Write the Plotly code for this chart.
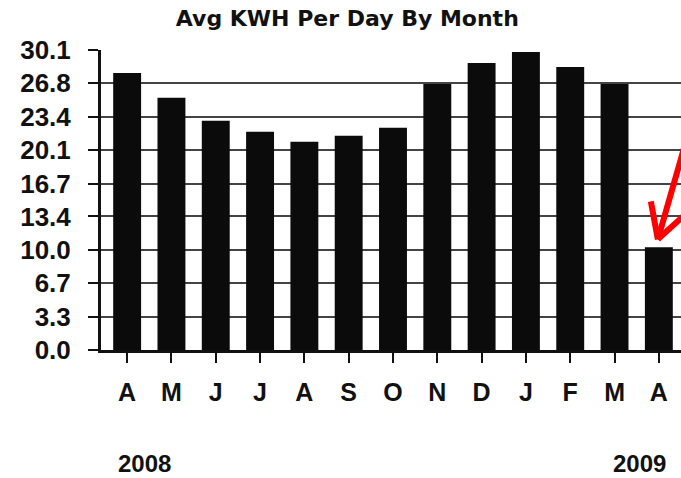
import plotly.graph_objects as go

# ---- data ----
months = ["A", "M", "J", "J", "A", "S", "O", "N", "D", "J", "F", "M", "A"]
kwh_per_day = [27.8, 25.3, 23.0, 21.9, 20.9, 21.5, 22.3, 26.7, 28.8, 29.9, 28.4, 26.7, 10.3]
y_tick_labels = ["0.0", "3.3", "6.7", "10.0", "13.4", "16.7", "20.1", "23.4", "26.8", "30.1"]
year_labels = ["2008", "2009"]
title_text = "Avg KWH Per Day By Month"

x_idx = list(range(len(months)))
y_tick_vals = [float(t) for t in y_tick_labels]
FONT = "Liberation Sans, Arial, sans-serif"
TITLE_FONT = "DejaVu Sans, sans-serif"

fig = go.Figure()
fig.add_trace(go.Bar(
    x=x_idx, y=kwh_per_day, width=0.63,
    marker=dict(color="#0b0b0b", line=dict(width=0)),
    hoverinfo="y",
))

fig.update_layout(
    width=681, height=478,
    margin=dict(l=101, r=0, t=50, b=128, pad=0, autoexpand=False),
    paper_bgcolor="white", plot_bgcolor="white",
    showlegend=False,
    title=dict(text="<b>" + title_text + "</b>", x=0.51, xanchor="center", y=0.962, yanchor="middle",
               font=dict(family=TITLE_FONT, size=22, color="#111")),
)

fig.update_xaxes(
    range=[-0.59, 12.5],
    tickmode="array", tickvals=x_idx, ticktext=["<b>" + m + "</b>" for m in months],
    ticks="outside", ticklen=10, tickwidth=2, tickcolor="#111",
    ticklabelstandoff=8,
    showline=True, linewidth=3, linecolor="#111",
    showgrid=False, zeroline=False, automargin=False,
    tickfont=dict(family=FONT, size=25, color="#111"),
)
fig.update_yaxes(
    range=[0, 30.1],
    tickmode="array", tickvals=y_tick_vals, ticktext=["<b>" + t + "</b>" for t in y_tick_labels],
    ticks="outside", ticklen=10, tickwidth=2, tickcolor="#111",
    ticklabelstandoff=12,
    showline=True, linewidth=3, linecolor="#111",
    showgrid=True, gridcolor="#444444", gridwidth=1.5,
    zeroline=False, automargin=False,
    tickfont=dict(family=FONT, size=26, color="#111"),
)

# year labels under the month axis
fig.add_annotation(text="<b>" + year_labels[0] + "</b>", xref="paper", yref="paper", x=0.075, y=-0.38,
                   showarrow=False, xanchor="center", yanchor="middle",
                   font=dict(family=FONT, size=24, color="#111"))
fig.add_annotation(text="<b>" + year_labels[1] + "</b>", xref="paper", yref="paper", x=0.928, y=-0.38,
                   showarrow=False, xanchor="center", yanchor="middle",
                   font=dict(family=FONT, size=24, color="#111"))

# red hand-drawn style arrow pointing at the last bar
last_i = len(months) - 1
last_v = kwh_per_day[last_i]
arrow_parts = [(-1, 8, 30, 116), (-1, 8, -8, 46), (-1, 8, 32, 38)]
for x0, y0, x1, y1 in arrow_parts:
    fig.add_shape(type="line", xref="x", yref="y",
                  xsizemode="pixel", ysizemode="pixel",
                  xanchor=last_i, yanchor=last_v,
                  x0=x0, y0=y0, x1=x1, y1=y1,
                  line=dict(color="#ff0000", width=6))

fig.write_html("out.html", config={"displayModeBar": False},
               post_script="document.body.style.margin='0';document.body.style.overflow='hidden';")
